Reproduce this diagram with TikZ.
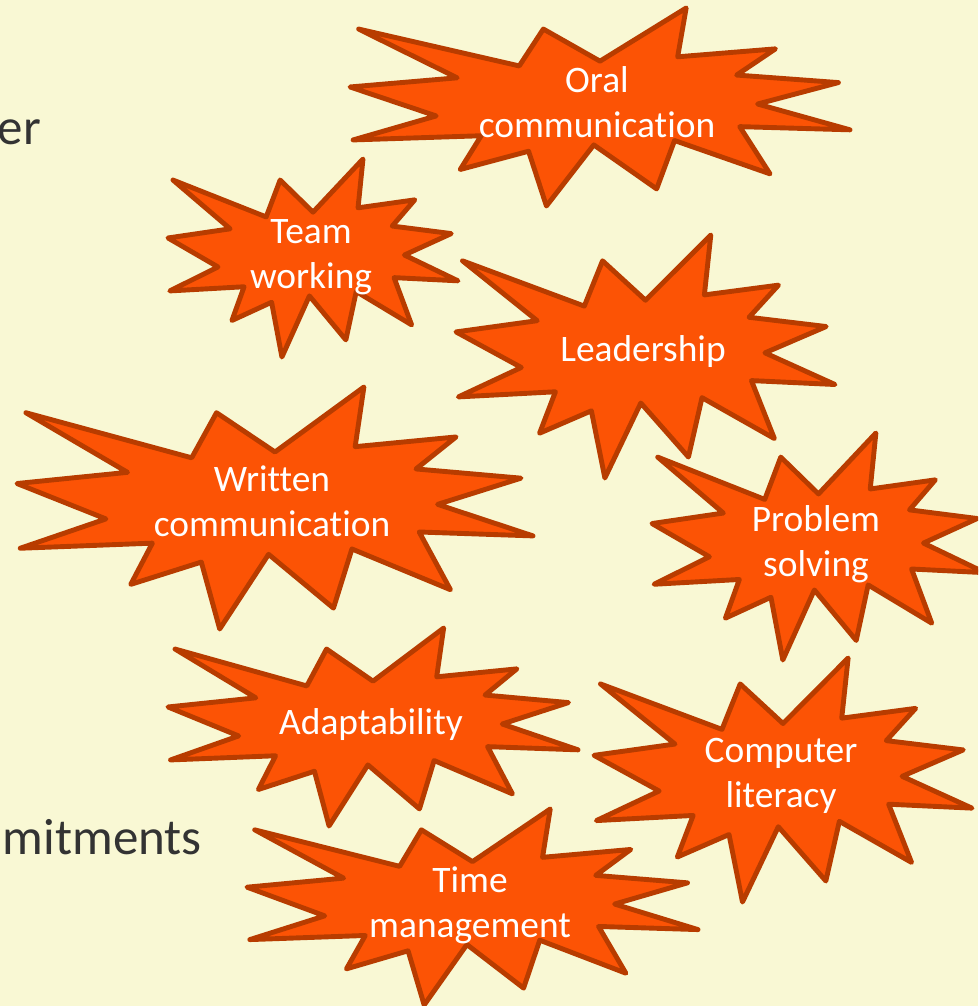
\documentclass[tikz,border=0pt]{standalone}
\usepackage{fontspec}
\setmainfont[Ligatures=NoCommon,Contextuals=NoAlternate]{Carlito}
\definecolor{pagebg}{HTML}{F9F8D4}
\definecolor{burstfill}{HTML}{FC5305}
\definecolor{burstline}{HTML}{B83C00}
\definecolor{bodyink}{HTML}{333333}
\tikzset{
  burstshape/.style={draw=burstline,fill=burstfill,line width=4.9pt,line join=round},
  bursttext/.style={text=white,align=center,inner sep=0pt,font=\fontsize{37.4}{45}\selectfont},
  bodytext/.style={text=bodyink,inner sep=0pt,font=\fontsize{51}{58}\selectfont}
}
% name, left, top, right, bottom, text x, text y, text
\newcommand{\burstitem}[8]{%
  \pgfmathsetmacro{\burstw}{(#4-#2)/216}%
  \pgfmathsetmacro{\bursth}{(#5-#3)/216}%
  \begin{scope}[shift={(#2,#3)},x=\burstw pt,y=-\bursth pt]
    \draw[burstshape] (108,58) -- (145.22,0) -- (141.55,53.25) -- (183.80,44.57)
      -- (167.02,73.15) -- (210.97,81.37) -- (176.07,104.75) -- (216,132.90)
      -- (168.37,129.42) -- (181.45,180.95) -- (140.20,144.57) -- (132.47,197.37)
      -- (105.32,149.35) -- (84.85,216) -- (77.15,156.27) -- (47.62,176.17)
      -- (56.67,139.37) -- (1.35,143.92) -- (37.22,117.75) -- (0,86.15)
      -- (46.27,76.17) -- (3.70,22.95) -- (73.12,63.20) -- (83.52,22.95) -- cycle;
  \end{scope}%
  \node[bursttext] (#1) at (#6,#7) {#8};%
}
\begin{document}
\begin{tikzpicture}[x=1pt,y=-1pt]
  \useasboundingbox (0,0) rectangle (978,1006);
  \fill[pagebg] (0,0) rectangle (978,1006);
  \clip (0,0) rectangle (978,1006);
  \node[bodytext,anchor=base east] (fragA) at (41,145) {er};
  \node[bodytext,anchor=base east] (fragB) at (202,854) {mitments};
  \burstitem{oral}{350}{8}{850}{206}{597}{102}{Oral\\communication}
  \burstitem{team}{168}{159}{458}{357}{311}{257}{Team\\working}
  \burstitem{lead}{456}{235}{835}{478}{643}{352}{Leadership}
  \burstitem{written}{17}{387}{533}{629}{272}{501}{Written\\communication}
  \burstitem{problem}{652}{433}{985}{660}{816}{544}{Problem\\solving}
  \burstitem{adapt}{168}{628}{578}{826}{371}{725}{Adaptability}
  \burstitem{computer}{594}{658}{972}{902}{781}{776}{Computer\\literacy}
  \burstitem{time}{247}{809}{698}{1005}{470}{905}{Time\\management}
\end{tikzpicture}
\end{document}
